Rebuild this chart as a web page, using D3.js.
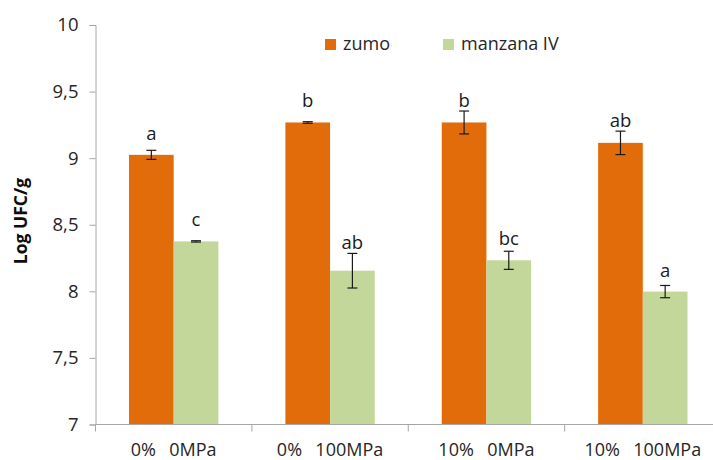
<!DOCTYPE html>
<html>
<head>
<meta charset="utf-8">
<script src="https://cdn.jsdelivr.net/npm/d3@7"></script>
<style>
  html, body { margin: 0; padding: 0; background: #fff; }
  svg { display: block; font-family: "Open Sans", sans-serif; }
</style>
</head>
<body>
<svg id="chart" width="713" height="460"></svg>
<script>
// Treatment groups along the x axis
const categories = ["0%  0MPa", "0%  100MPa", "10%  0MPa", "10%  100MPa"];
const seriesNames = ["zumo", "manzana IV"];
const seriesColors = ["#e36c0a", "#c4d79b"];

// Mean Log UFC/g per treatment
const zumoValues = [9.025, 9.268, 9.268, 9.115];
const manzanaValues = [8.375, 8.155, 8.233, 7.998];

// Standard deviations (error bars)
const zumoErrors = [0.034, 0.006, 0.086, 0.088];
const manzanaErrors = [0.005, 0.13, 0.068, 0.046];

// Significance letters
const zumoLetters = ["a", "b", "b", "ab"];
const manzanaLetters = ["c", "ab", "bc", "a"];

// Y axis ticks
const yTicks = [7, 7.5, 8, 8.5, 9, 9.5, 10];

const seriesValues = [zumoValues, manzanaValues];
const seriesErrors = [zumoErrors, manzanaErrors];
const seriesLetters = [zumoLetters, manzanaLetters];

const rows = [];
categories.forEach((c, i) => {
  seriesNames.forEach((s, j) => {
    rows.push({
      cat: c, series: s, si: j,
      value: seriesValues[j][i],
      err: seriesErrors[j][i],
      letter: seriesLetters[j][i]
    });
  });
});

const svg = d3.select("#chart");
const plotLeft = 95.5, plotRight = 721, plotTop = 25, plotBottom = 424.5;

const y = d3.scaleLinear().domain([7, 10]).range([plotBottom, plotTop]);
const x0 = d3.scaleBand().domain(categories).range([plotLeft, plotRight]).padding(0);
const groupW = x0.bandwidth() * 2 / 3.5;
const x1 = d3.scaleBand().domain(seriesNames).range([0, groupW]).padding(0);
const color = d3.scaleOrdinal().domain(seriesNames).range(seriesColors);
const fmt = v => String(v).replace(".", ",");

// Bars
const g = svg.append("g");
const barX = d => x0(d.cat) + (x0.bandwidth() - groupW) / 2 + x1(d.series);
g.selectAll("rect.bar")
  .data(rows)
  .join("rect")
  .attr("class", "bar")
  .attr("x", barX)
  .attr("y", d => y(d.value))
  .attr("width", x1.bandwidth())
  .attr("height", d => y(7) - y(d.value))
  .attr("fill", d => color(d.series));

// Error bars
const cx = d => barX(d) + x1.bandwidth() / 2;
const eb = g.selectAll("g.err").data(rows).join("g").attr("class", "err")
  .attr("stroke", "#1a1a1a").attr("stroke-width", 1.2);
eb.append("line")
  .attr("x1", cx).attr("x2", cx)
  .attr("y1", d => y(d.value + d.err)).attr("y2", d => y(d.value - d.err));
eb.append("line")
  .attr("x1", d => cx(d) - 5).attr("x2", d => cx(d) + 5)
  .attr("y1", d => y(d.value + d.err)).attr("y2", d => y(d.value + d.err));
eb.append("line")
  .attr("x1", d => cx(d) - 5).attr("x2", d => cx(d) + 5)
  .attr("y1", d => y(d.value - d.err)).attr("y2", d => y(d.value - d.err));

// Letters above bars
g.selectAll("text.letter").data(rows).join("text")
  .attr("class", "letter")
  .attr("x", cx)
  .attr("y", d => Math.min(y(d.value) - 15, y(d.value + d.err) - 4))
  .attr("text-anchor", "middle")
  .attr("font-size", 18.5)
  .attr("fill", "#1a1a1a")
  .text(d => d.letter);

// Y axis
const yAxis = d3.axisLeft(y).tickValues(yTicks).tickSize(6).tickPadding(11).tickFormat(fmt);
const ya = svg.append("g").attr("transform", `translate(${plotLeft},0)`).call(yAxis);
ya.select(".domain").attr("stroke", "#a6a6a6");
ya.selectAll(".tick line").attr("stroke", "#a6a6a6");
ya.selectAll(".tick text").attr("font-size", 18.5).attr("fill", "#262626")
  .attr("font-family", "Open Sans, sans-serif");

// X axis with ticks at category boundaries
svg.append("line").attr("x1", plotLeft).attr("x2", plotRight).attr("y1", plotBottom).attr("y2", plotBottom)
  .attr("stroke", "#a6a6a6");
svg.selectAll("line.xtick").data(categories).join("line")
  .attr("class", "xtick")
  .attr("x1", d => x0(d)).attr("x2", d => x0(d))
  .attr("y1", plotBottom).attr("y2", plotBottom + 7)
  .attr("stroke", "#a6a6a6");
svg.selectAll("text.xlabel").data(categories).join("text")
  .attr("class", "xlabel")
  .attr("x", d => x0(d) + x0.bandwidth() / 2)
  .attr("y", 456)
  .attr("text-anchor", "middle")
  .attr("font-size", 18)
  .attr("word-spacing", 2)
  .attr("fill", "#262626")
  .attr("xml:space", "preserve")
  .style("white-space", "pre")
  .text(d => d);

// Y axis title
svg.append("text")
  .attr("transform", "translate(27,221) rotate(-90)")
  .attr("text-anchor", "middle")
  .attr("font-size", 17.5)
  .attr("font-weight", "bold")
  .attr("fill", "#0d0d0d")
  .text("Log UFC/g");

// Legend
const legendX = [325, 443];
const lg = svg.selectAll("g.legend").data(seriesNames).join("g").attr("class", "legend")
  .attr("transform", (d, i) => `translate(${legendX[i]},39)`);
lg.append("rect").attr("width", 11).attr("height", 11).attr("fill", d => color(d));
lg.append("text").attr("x", 18).attr("y", 11).attr("font-size", 18).attr("fill", "#262626").text(d => d);
</script>
</body>
</html>
